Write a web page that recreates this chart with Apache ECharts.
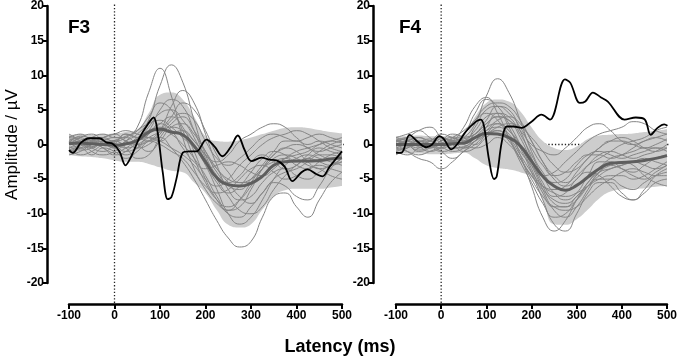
<!DOCTYPE html>
<html>
<head>
<meta charset="utf-8">
<script src="https://cdn.jsdelivr.net/npm/echarts@6/dist/echarts.min.js"></script>
<style>
  html, body { margin: 0; padding: 0; background: #fff; }
  #container { width: 680px; height: 359px; }
</style>
</head>
<body>
<div id="container"></div>
<script>
// sample times (ms) for the group curves
const times = [-100, -75, -50, -25, 0, 25, 50, 75, 100, 125, 150, 175, 200, 225, 250, 275, 300, 325, 350, 375, 400, 425, 450, 475, 500];

// F3: group mean and band
const f3Mean  = [0.1, 0.2, 0.1, 0, -0.1, 0.1, 0.6, 1.8, 2.2, 1.8, 1.4, -0.2, -2.5, -4.8, -5.8, -6.0, -5.6, -4.6, -3.0, -2.5, -2.4, -2.4, -2.3, -2.1, -1.9];
const f3Upper = [1.3, 1.5, 1.4, 1.5, 1.6, 1.8, 2.2, 4.5, 7.2, 7.5, 6.5, 4.0, 1.2, 0.5, 0.4, 0.6, 1.0, 1.5, 2.0, 2.4, 2.5, 2.4, 2.1, 1.8, 1.6];
const f3Lower = [-1.5, -1.7, -1.8, -2.0, -2.3, -2.5, -2.5, -2.8, -3.3, -3.8, -4.0, -5.5, -7.0, -9.5, -11.6, -12.0, -11.5, -9.4, -7.5, -6.6, -6.4, -6.4, -6.4, -6.2, -6.0];

// F3: individual control subjects
const f3Subjects = [
  [0.5, 1.0, 0.2, 0.8, 0.5, 1.0, 2.5, 7.5, 11.0, 7.0, 1.0, -3.5, -6.5, -8.5, -9.5, -8.0, -5.5, -3.5, -2.5, -2.0, -3.0, -3.5, -2.5, -1.5, -1.0],
  [-0.5, 0.3, 1.0, 0.2, -0.5, 0.5, 1.5, 3.5, 8.5, 11.5, 9.0, 3.5, -1.5, -4.5, -6.0, -6.5, -5.0, -3.0, -1.0, 0.5, 0.5, -0.5, -1.0, -0.5, 0],
  [1.0, 0.5, -0.5, -1.0, 0, 1.5, 1.0, 0.5, 2.0, 5.5, 7.8, 6.0, 1.5, -3.0, -6.5, -8.0, -7.5, -5.5, -4.0, -3.5, -4.5, -5.0, -4.0, -3.0, -2.5],
  [-1.0, -0.5, -1.5, -0.5, -1.0, -2.0, -1.0, 0.5, 1.0, -0.5, -2.5, -5.0, -8.0, -11.0, -13.5, -14.8, -14.0, -10.5, -7.5, -7.0, -9.0, -10.5, -8.0, -5.5, -4.0],
  [0.5, -0.5, 0, 1.0, 1.5, 2.0, 1.5, 1.0, 0.5, 1.5, 2.0, 0.5, -1.5, -2.5, -1.5, 0.5, 1.5, 2.5, 3.0, 2.5, 1.0, 0, 0.5, 0, -0.5],
  [-1.5, -1.0, 0, 0.5, -0.5, -1.5, -0.5, 1.5, 3.0, 4.0, 2.5, -1.0, -5.0, -8.0, -10.0, -10.5, -9.0, -7.0, -5.5, -6.0, -7.5, -8.0, -6.0, -3.5, -2.0],
  [0, 0.5, 0.5, -0.5, -1.5, -1.0, 0.5, 2.5, 4.5, 5.0, 3.5, 1.0, -2.5, -5.5, -7.0, -6.0, -4.0, -2.0, -1.0, -1.5, -2.5, -2.0, -1.0, 0, 0.5],
  [1.0, 1.5, 0.5, 0, 0.5, -0.5, -2.0, -1.5, 1.0, 3.0, 4.0, 2.0, -1.0, -4.0, -5.5, -4.5, -2.5, -1.5, -2.5, -3.5, -3.0, -1.5, -0.5, -1.0, -1.5],
  [-0.5, -1.5, -1.0, 0, 0.5, 0, 1.0, 2.0, 2.5, 1.5, 0, -2.0, -4.5, -7.5, -9.5, -9.0, -6.5, -3.5, -1.5, -0.5, -1.0, -2.5, -3.5, -3.0, -2.0],
  [0.5, 0, -0.5, 0.5, 1.0, 0.5, -0.5, 0, 1.5, 3.5, 4.5, 3.5, 0.5, -2.0, -3.0, -2.0, -0.5, 1.0, 1.5, 1.0, 0.5, 1.0, 1.5, 1.0, 0.5],
  [-1.0, -0.5, 0.5, 1.0, 0, -1.0, -0.5, 0.5, 0, -1.0, -2.0, -4.0, -6.0, -7.0, -6.5, -5.0, -3.5, -3.0, -4.0, -5.0, -4.5, -3.5, -3.0, -3.5, -4.0],
  [0, 1.0, 1.5, 0.5, -0.5, 0.5, 2.0, 3.0, 3.5, 2.5, 1.0, -0.5, -3.0, -6.5, -10.0, -11.5, -10.5, -8.0, -5.0, -3.0, -2.0, -1.5, -2.0, -2.5, -3.0],
  [1.5, 0.5, -1.0, -1.5, -1.0, 0, 0.5, 1.5, 3.0, 2.0, -0.5, -2.5, -3.5, -3.0, -2.5, -3.0, -4.0, -4.5, -3.5, -2.0, -1.0, -0.5, 0, 0.5, 1.0],
  [-0.5, 0, 1.0, 1.5, 1.0, 1.0, 0, -1.0, 0.5, 2.5, 3.0, 1.5, -1.0, -3.5, -5.5, -7.5, -8.5, -7.0, -5.0, -4.0, -3.5, -2.5, -1.5, -1.5, -2.0],
  [0.8, 0.3, -0.3, 0.2, 0.6, 1.2, 2.0, 4.0, 6.0, 5.0, 2.0, -2.0, -5.5, -8.0, -9.0, -8.0, -6.0, -3.5, -1.5, -0.5, 0, -0.5, -1.5, -2.0, -1.5],
  [-0.3, -0.8, -0.5, 0.5, 0.2, -0.5, 0, 1.0, 1.8, 2.5, 2.0, 0.5, -1.5, -3.5, -5.0, -5.5, -5.0, -3.5, -2.0, -1.5, -2.0, -3.0, -3.5, -4.5, -5.0],
  [1.2, 0.8, 0.5, 1.0, 1.5, 0.5, 0, 0.5, 2.0, 4.0, 6.0, 5.0, 2.0, -1.5, -4.0, -5.5, -5.5, -4.5, -3.0, -2.0, -1.5, -1.0, 0, 0.5, 0.2],
  [-0.8, -0.2, 0.3, -0.5, -1.2, -0.5, 0.5, 1.0, 0.5, -0.5, -1.5, -3.0, -5.0, -6.0, -5.0, -3.0, -1.5, 0, 1.0, 1.5, 2.0, 1.5, 0.5, -0.5, -1.0],
  [0.2, 1.2, 0.8, 0, 0.3, 1.5, 1.0, 2.0, 5.0, 6.5, 5.5, 2.0, -2.0, -5.0, -7.5, -9.5, -10.0, -9.0, -6.5, -4.5, -3.0, -2.0, -2.5, -3.0, -2.5]
];

// F3: patient
const f3PatientT = [-100, -92, -73, -55, -33, -18, -4, 11, 24, 37, 55, 73, 86, 95, 106, 117, 125, 136, 150, 165, 180, 202, 220, 237, 255, 271, 286, 301, 323, 341, 356, 374, 391, 411, 424, 444, 457, 473, 500];
const f3Patient  = [-0.8, -1.2, 0.3, 0.9, 0.9, 0.3, 0.1, -1.0, -3.0, -1.7, 1.0, 2.9, 3.9, 1.7, -4.0, -7.9, -7.6, -5.0, -1.2, -1.0, -1.0, 0.7, -0.3, -1.7, -0.4, 1.3, -0.8, -2.4, -1.9, -2.2, -2.3, -3.2, -5.3, -4.0, -3.6, -4.3, -4.6, -3.2, -1.0];

// F4: group mean and band
const f4Mean  = [0, 0, 0, 0, 0, 0.1, 0.2, 1.0, 1.6, 1.5, 1.0, -0.2, -2.4, -4.6, -6.0, -6.6, -5.9, -4.7, -3.5, -2.7, -2.6, -2.5, -2.3, -2.0, -1.6];
const f4Upper = [1.2, 1.2, 1.3, 1.2, 1.2, 1.3, 1.4, 4.0, 6.0, 6.5, 6.2, 4.8, 2.5, 0.5, -0.5, -0.8, -0.3, 0.8, 1.3, 1.4, 1.5, 1.6, 1.8, 2.0, 2.2];
const f4Lower = [-1.2, -1.3, -1.3, -1.4, -1.4, -1.3, -1.2, -2.0, -3.0, -3.4, -3.6, -4.0, -4.8, -8.0, -11.5, -11.6, -10.8, -9.4, -7.8, -6.8, -6.5, -6.4, -6.3, -6.1, -6.0];

// F4: individual control subjects
const f4Subjects = [
  [0.5, 0, -0.5, 0.5, 1.0, 0.5, 1.0, 3.0, 7.0, 9.5, 7.5, 3.5, -1.0, -4.0, -5.5, -5.0, -3.0, -1.5, -1.0, -1.5, -2.0, -1.5, -1.0, -0.5, -0.5],
  [-1.0, -0.5, 0, -0.5, 0, 0.5, 2.5, 5.5, 6.8, 4.5, 1.0, -2.5, -5.5, -8.5, -10.5, -10.0, -8.0, -6.0, -5.0, -5.0, -6.0, -6.5, -5.5, -4.5, -4.0],
  [0.5, 1.0, 0.5, 0, -0.5, 0, 0.5, 2.0, 4.0, 4.5, 2.5, -1.5, -6.0, -10.5, -12.5, -11.0, -8.0, -5.5, -4.0, -3.5, -3.0, -2.5, -3.0, -3.5, -3.0],
  [-0.5, -1.0, -1.5, -1.0, -0.5, -1.0, -0.5, 1.0, 2.5, 3.0, 2.0, -0.5, -4.0, -8.0, -11.5, -12.5, -10.0, -7.0, -5.5, -5.5, -7.0, -8.0, -7.0, -5.5, -5.0],
  [1.0, 1.5, 2.0, 1.0, 0, 0.5, 1.0, 1.5, 3.0, 4.0, 3.5, 2.0, 0, -1.0, -1.5, -0.5, 1.0, 2.5, 3.0, 2.0, 0.5, 0, 0.5, 1.0, 1.5],
  [-1.5, -0.5, 0.5, 0, -1.0, -2.0, -1.0, 0.5, 2.0, 2.5, 1.5, -1.0, -3.0, -4.5, -4.0, -2.5, -1.0, 0.5, 1.5, 2.0, 2.5, 3.3, 3.0, 2.0, 1.5],
  [0, 0.5, 0, -0.5, 0.5, 1.0, 0.5, 1.5, 3.5, 5.5, 5.0, 2.0, -2.0, -5.5, -7.5, -7.0, -5.0, -4.0, -4.5, -6.0, -7.5, -8.0, -6.5, -4.5, -3.5],
  [0, -1.0, -2.0, -2.5, -3.5, -2.5, -1.0, 0, 1.5, 2.0, 0.5, -2.0, -4.5, -6.5, -8.0, -8.5, -7.5, -5.5, -3.5, -2.0, -1.5, -1.0, -0.5, -0.5, -1.0],
  [0.5, 1.0, 2.0, 2.5, 1.0, -0.5, -0.5, 0.5, 2.0, 3.5, 4.0, 3.0, 0.5, -2.5, -5.0, -6.0, -5.0, -3.0, -1.5, -1.0, -1.5, -2.0, -1.5, -1.0, 0],
  [-0.5, 0, 0.5, 0.5, 0, 0.5, 0, -0.5, 0, 1.0, 0, -2.0, -5.0, -7.5, -9.0, -9.5, -9.0, -7.5, -6.0, -5.0, -4.0, -3.5, -4.0, -4.5, -4.5],
  [1.0, 0.5, 0, 0.5, 1.5, 1.0, 0.5, 2.5, 5.0, 5.5, 4.5, 2.5, -0.5, -3.0, -4.5, -4.0, -2.5, -1.5, -1.5, -2.0, -1.5, -0.5, 0.5, 1.0, 0.5],
  [-1.0, -1.5, -0.5, 0.5, 1.0, 0, -1.0, -0.5, 1.0, 2.0, 1.0, -1.5, -4.0, -6.0, -7.0, -7.5, -7.0, -6.0, -5.0, -4.5, -4.5, -5.0, -4.5, -3.5, -2.5],
  [0, 0.5, 1.0, 0, -1.0, -0.5, 1.5, 3.5, 5.5, 6.0, 5.5, 3.5, 0.5, -2.5, -4.5, -5.5, -4.5, -3.0, -2.0, -1.0, 0, 0.5, 1.0, 2.0, 2.5],
  [0.5, 0, -1.0, -0.5, 0.5, 1.5, 1.0, 0, 1.5, 3.0, 2.0, 0, -3.0, -6.5, -9.5, -10.5, -9.0, -6.5, -4.0, -3.0, -3.5, -4.0, -3.0, -2.0, -1.5],
  [0.3, 0.8, 0.2, -0.3, 0.2, 0.8, 1.5, 4.5, 6.5, 5.5, 3.0, 0, -3.5, -7.0, -9.0, -9.0, -7.5, -6.0, -4.5, -3.5, -3.0, -2.5, -2.0, -2.5, -3.0],
  [-0.8, -0.3, 0.3, 0.8, 0.3, -0.5, -0.3, 0.5, 1.5, 2.5, 3.0, 2.5, 1.0, -1.0, -3.0, -4.0, -3.5, -2.0, -0.5, 0.5, 0.5, 0, -0.5, 0, 0.8],
  [0.5, 0.2, -0.3, -1.0, -0.5, 0.3, 0.8, 1.5, 3.0, 4.0, 3.5, 1.0, -2.5, -6.0, -8.5, -9.0, -8.0, -6.0, -4.0, -3.0, -2.5, -3.0, -4.5, -5.5, -6.0],
  [-0.3, 0.5, 1.0, 0.5, 0, 1.0, 2.0, 3.5, 4.5, 3.5, 1.0, -2.0, -4.5, -6.0, -6.5, -6.0, -4.0, -2.0, -0.5, 0.5, 1.0, 0.5, -0.5, -1.0, -0.5],
  [0.8, 0, -0.8, -0.3, 0.8, 0.5, -0.5, 0.5, 2.5, 4.5, 4.0, 1.5, -1.5, -4.5, -7.0, -8.0, -7.0, -4.5, -2.5, -2.5, -3.5, -4.5, -5.0, -4.0, -3.0]
];

// F4: patient
const f4PatientT = [-100, -88, -70, -52, -33, -20, -4, 7, 22, 35, 55, 77, 88, 95, 106, 117, 123, 134, 145, 160, 178, 200, 222, 241, 274, 286, 307, 319, 336, 354, 369, 406, 431, 451, 464, 479, 494, 501];
const f4Patient  = [-1.2, -1.2, 1.4, 0.4, -0.4, 0, 1.2, 0.7, -0.7, 0, 1.9, 3.3, 3.6, 2.6, -2.2, -5.0, -4.6, 0.3, 2.6, 2.6, 2.4, 3.3, 4.3, 3.6, 9.4, 8.9, 6.0, 6.2, 7.5, 6.8, 6.2, 3.6, 3.9, 3.6, 1.4, 2.4, 2.9, 2.7];

const font = '"Liberation Sans", Arial, Helvetica, sans-serif';

let dom = document.getElementById('container');
let myChart = echarts.init(dom, null, { renderer: 'canvas' });

function pairs(xs, ys) {
    return xs.map((x, i) => [x, ys[i]]);
}

function panelSeries(idx, mean, upper, lower, subjects, patientT, patient) {
    let axes = { xAxisIndex: idx, yAxisIndex: idx };
    let list = [];
    // horizontal zero line sits under the band
    list.push(Object.assign({
        type: 'line', data: [[-150, 0], [506, 0]], clip: false, symbol: 'none', silent: true, z: 1,
        lineStyle: { color: '#222', width: 1.3, type: [1.3, 2] }
    }, axes));
    // shaded band: grey down from the upper edge, then white below the lower edge
    list.push(Object.assign({
        type: 'line', data: pairs(times, upper), smooth: true, symbol: 'none', z: 2,
        lineStyle: { opacity: 0 }, areaStyle: { color: '#cdcdcd', opacity: 1, origin: 'start' }
    }, axes));
    list.push(Object.assign({
        type: 'line', data: pairs(times, lower), smooth: true, symbol: 'none', z: 2,
        lineStyle: { opacity: 0 }, areaStyle: { color: '#ffffff', opacity: 1, origin: 'start' }
    }, axes));
    // stimulus onset line
    list.push(Object.assign({
        type: 'line', data: [[0, 20.2], [0, -22.9]], clip: false, symbol: 'none', silent: true, z: 3,
        lineStyle: { color: '#222', width: 1.3, type: [1.3, 2] }
    }, axes));
    // individual subjects
    subjects.forEach(s => {
        list.push(Object.assign({
            type: 'line', data: pairs(times, s), smooth: true, symbol: 'none', z: 3,
            lineStyle: { color: '#858585', width: 1 }
        }, axes));
    });
    // group mean
    list.push(Object.assign({
        type: 'line', data: pairs(times, mean), smooth: true, symbol: 'none', z: 4,
        lineStyle: { color: '#5e5e5e', width: 3 }
    }, axes));
    // patient
    list.push(Object.assign({
        type: 'line', data: pairs(patientT, patient), smooth: 0.35, symbol: 'none', z: 5,
        lineStyle: { color: '#000', width: 1.8 }
    }, axes));
    return list;
}

function xAxisFor(idx) {
    return {
        gridIndex: idx, type: 'value', min: -100, max: 500, interval: 100,
        offset: 21,
        axisLine: { onZero: false, lineStyle: { color: '#000', width: 2.5 } },
        axisTick: { length: 5, lineStyle: { color: '#000', width: 2 } },
        axisLabel: { color: '#000', fontWeight: 'bold', fontSize: 12, fontFamily: font, margin: 6 },
        splitLine: { show: false }
    };
}

function yAxisFor(idx, offset) {
    let ax = {
        gridIndex: idx, type: 'value', min: -20, max: 20, interval: 5,
        offset: offset,
        axisLine: { show: true, onZero: false, lineStyle: { color: '#000', width: 2.5 } },
        axisTick: { show: true, length: 4, lineStyle: { color: '#000', width: 2 } },
        axisLabel: { color: '#000', fontWeight: 'bold', fontSize: 12, fontFamily: font, margin: 3 },
        splitLine: { show: false }
    };
    if (idx === 0) {
        ax.name = 'Amplitude / µV';
        ax.nameLocation = 'middle';
        ax.nameGap = 26;
        ax.nameTextStyle = { color: '#000', fontSize: 17, fontFamily: font };
    }
    return ax;
}

let option = {
    animation: false,
    backgroundColor: '#fff',
    title: [
        { text: 'F3', left: 63, top: 13, textStyle: { fontSize: 19, fontWeight: 'bold', color: '#000', fontFamily: font } },
        { text: 'F4', left: 394, top: 13, textStyle: { fontSize: 19, fontWeight: 'bold', color: '#000', fontFamily: font } },
        { text: 'Latency (ms)', left: 'center', top: 333, textStyle: { fontSize: 18, fontWeight: 'bold', color: '#000', fontFamily: font } }
    ],
    grid: [
        { left: 69, top: 6, width: 273, height: 277 },
        { left: 396, top: 6, width: 273, height: 277 }
    ],
    xAxis: [xAxisFor(0), xAxisFor(1)],
    yAxis: [yAxisFor(0, 22), yAxisFor(1, 23)],
    series: [].concat(
        panelSeries(0, f3Mean, f3Upper, f3Lower, f3Subjects, f3PatientT, f3Patient),
        panelSeries(1, f4Mean, f4Upper, f4Lower, f4Subjects, f4PatientT, f4Patient)
    )
};
myChart.setOption(option);
</script>
</body>
</html>
